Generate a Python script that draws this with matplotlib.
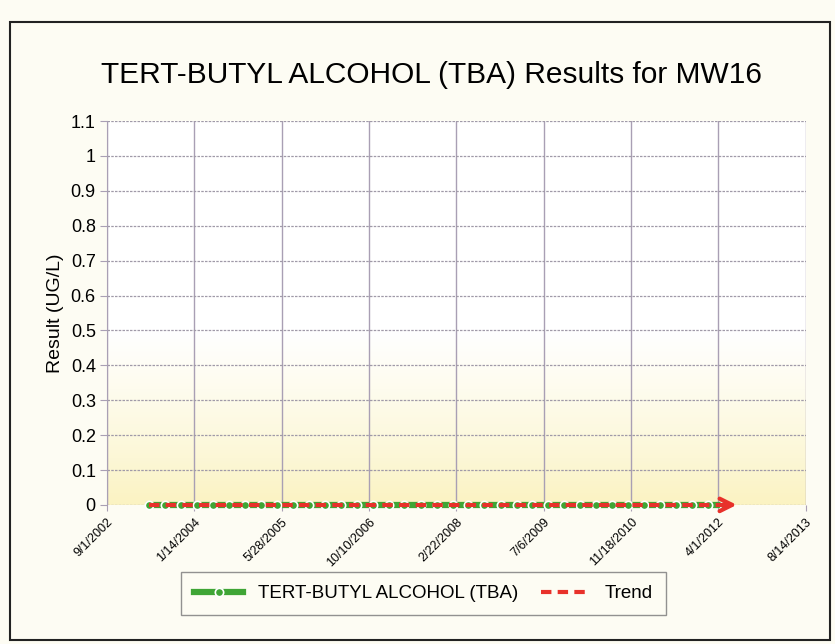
import matplotlib
matplotlib.use("Agg")
import matplotlib.pyplot as plt
import matplotlib.dates as mdates
import numpy as np
import datetime as dt
from matplotlib.patches import Rectangle
from matplotlib.colors import LinearSegmentedColormap

plt.rcParams['font.family'] = ['Liberation Sans', 'DejaVu Sans']

title = "TERT-BUTYL ALCOHOL (TBA) Results for MW16"
ylabel = "Result (UG/L)"
series_name = "TERT-BUTYL ALCOHOL (TBA)"
trend_name = "Trend"

sample_dates = [
    "2003-05-01", "2003-08-01", "2003-11-01", "2004-02-01", "2004-05-01", "2004-08-01",
    "2004-11-01", "2005-02-01", "2005-05-01", "2005-08-01", "2005-11-01", "2006-02-01",
    "2006-05-01", "2006-08-01", "2006-11-01", "2007-02-01", "2007-05-01", "2007-08-01",
    "2007-11-01", "2008-02-01", "2008-05-01", "2008-08-01", "2008-11-01", "2009-02-01",
    "2009-05-01", "2009-08-01", "2009-11-01", "2010-02-01", "2010-05-01", "2010-08-01",
    "2010-11-01", "2011-02-01", "2011-05-01", "2011-08-01", "2011-11-01", "2012-02-01",
    "2012-05-01",
]
results = [0.0] * len(sample_dates)

xtick_dates = ["2002-09-01", "2004-01-14", "2005-05-28", "2006-10-10", "2008-02-22",
               "2009-07-06", "2010-11-18", "2012-04-01", "2013-08-14"]
xtick_labels = ["9/1/2002", "1/14/2004", "5/28/2005", "10/10/2006", "2/22/2008",
                "7/6/2009", "11/18/2010", "4/1/2012", "8/14/2013"]
ytick_values = [0, 0.1, 0.2, 0.3, 0.4, 0.5, 0.6, 0.7, 0.8, 0.9, 1.0, 1.1]
ytick_labels = ["0", "0.1", "0.2", "0.3", "0.4", "0.5", "0.6", "0.7", "0.8", "0.9", "1", "1.1"]

dates = [dt.datetime.strptime(d, "%Y-%m-%d") for d in sample_dates]
xt = [dt.datetime.strptime(d, "%Y-%m-%d") for d in xtick_dates]
xnum = mdates.date2num(dates)

# linear trend from the data
coef = np.polyfit(xnum, results, 1)
trend = np.polyval(coef, xnum)

fig = plt.figure(figsize=(8.35, 6.44), dpi=100, facecolor="#fdfcf3")
ax = fig.add_axes([0.128, 0.216, 0.837, 0.596])

# background gradient
grad = np.linspace(0, 1, 256).reshape(-1, 1)
cmap = LinearSegmentedColormap.from_list(
    "g", [(0.0, "#fbf3c2"), (0.12, "#fcf7d6"), (0.3, "#fefcee"), (0.45, "#ffffff"), (1.0, "#ffffff")])
ax.imshow(grad, aspect="auto", cmap=cmap, extent=[0, 1, 0, 1], transform=ax.transAxes,
          origin="lower", zorder=0)

ax.set_xlim(mdates.date2num(xt[0]), mdates.date2num(xt[-1]))
ax.set_ylim(0, 1.1)
ax.set_xticks(mdates.date2num(xt))
ax.set_xticklabels(xtick_labels, rotation=45, ha="right", rotation_mode="anchor", fontsize=9)
ax.set_yticks(ytick_values)
ax.set_yticklabels(ytick_labels, fontsize=13)

ax.grid(axis="x", color="#a99fb4", lw=1.0, ls="-")
ax.grid(axis="y", color="#a09aa8", lw=0.9, ls=(0, (2, 1)))
ax.set_axisbelow(True)
for s in ["top", "right", "bottom"]:
    ax.spines[s].set_visible(False)
ax.spines["left"].set_color("#a99fb4")
ax.tick_params(axis="y", color="#a99fb4", length=5, pad=3)
ax.tick_params(axis="x", color="#a99fb4", length=4, pad=4)

ax.plot(xnum, results, color="#3fa535", lw=4.5, marker="o", ms=6,
        mfc="#3fa535", mec="white", mew=1.2, zorder=3, label=series_name, clip_on=False)
ax.plot(xnum, trend, color="#e8312a", lw=3, ls=(0, (2.5, 1.5)), zorder=4,
        label=trend_name, clip_on=False)
ax.annotate("", xy=(xnum[-1] + 75, trend[-1]), xytext=(xnum[-1] - 10, trend[-1]),
            arrowprops=dict(arrowstyle="->,head_length=0.9,head_width=0.45", color="#e8312a",
                            lw=3, shrinkA=0, shrinkB=0),
            annotation_clip=False, zorder=5)

ax.set_ylabel(ylabel, fontsize=14, labelpad=5)

fig.text(0.517, 0.884, title, ha="center", va="center", fontsize=21.5)

leg = fig.legend(loc="center", bbox_to_anchor=(0.507, 0.078), ncol=2, fontsize=13.5,
                 frameon=True, fancybox=False, edgecolor="#777777", handlelength=2.6,
                 columnspacing=1.2, borderpad=0.7)
leg.get_frame().set_linewidth(1.0)
leg.get_frame().set_facecolor("#fdfcf3")

fig.patches.append(Rectangle((0.012, 0.006), 0.982, 0.96, transform=fig.transFigure,
                             fill=False, edgecolor="#222222", lw=1.5))

fig.savefig("out.png", dpi=100, facecolor=fig.get_facecolor())
